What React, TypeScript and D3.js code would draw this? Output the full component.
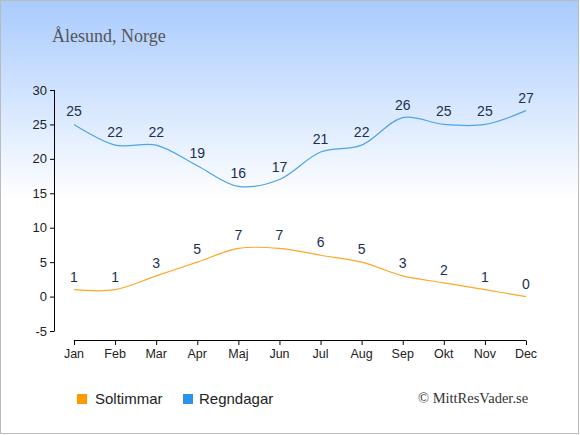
import React, { useEffect } from 'react';
import * as d3 from 'd3';

const months = ['Jan', 'Feb', 'Mar', 'Apr', 'Maj', 'Jun', 'Jul', 'Aug', 'Sep', 'Okt', 'Nov', 'Dec'];
const sunHours = [1, 1, 3, 5, 7, 7, 6, 5, 3, 2, 1, 0];
const rainDays = [25, 22, 22, 19, 16, 17, 21, 22, 26, 25, 25, 27];
const yTicks = [-5, 0, 5, 10, 15, 20, 25, 30];

const W = 580;
const H = 435;

export default function App() {
  useEffect(() => {
    document.body.style.margin = '0';
  }, []);

  const x = d3.scalePoint<string>().domain(months).range([74, 526]);
  const y = d3.scaleLinear().domain([-5, 30]).range([331, 90]);

  const line = d3.line<number>()
    .x((_, i) => x(months[i]) as number)
    .y(d => y(d))
    .curve(d3.curveCatmullRom.alpha(0.5));

  const font = 'Arial, "Liberation Sans", sans-serif';

  return (
    <svg width={W} height={H} style={{ display: 'block' }}>
      <defs>
        <linearGradient id="bg" x1="0" y1="0" x2="0" y2="1">
          <stop offset="0%" stopColor="#a9cbfe" />
          <stop offset="46%" stopColor="#ffffff" />
          <stop offset="100%" stopColor="#ffffff" />
        </linearGradient>
      </defs>
      <rect x={0.5} y={0.5} width={W - 2} height={H - 2} fill="url(#bg)" stroke="#bbbbbb" />

      <text x={52} y={42} fontFamily='"Liberation Serif", serif' fontSize={18} fill="#555555">
        Ålesund, Norge
      </text>

      {/* y axis */}
      <line x1={54.5} x2={54.5} y1={y(30)} y2={y(-5)} stroke="#000" />
      {yTicks.map(t => (
        <g key={t}>
          <line x1={50} x2={54.5} y1={y(t) + 0.5} y2={y(t) + 0.5} stroke="#000" />
          <text x={47} y={y(t) + 4.5} textAnchor="end" fontFamily={font} fontSize={13} fill="#222">
            {t}
          </text>
        </g>
      ))}

      {/* x axis */}
      <line x1={x('Jan')} x2={x('Dec')} y1={340.5} y2={340.5} stroke="#000" />
      {months.map(m => (
        <g key={m}>
          <line x1={(x(m) as number) + 0.5} x2={(x(m) as number) + 0.5} y1={340.5} y2={345} stroke="#000" />
          <text x={x(m)} y={358} textAnchor="middle" fontFamily={font} fontSize={12.5} fill="#222">
            {m}
          </text>
        </g>
      ))}

      {/* series */}
      <path d={line(rainDays) ?? ''} fill="none" stroke="#4da3ec" strokeWidth={1.2} />
      <path d={line(sunHours) ?? ''} fill="none" stroke="#ffa726" strokeWidth={1.2} />

      {rainDays.map((v, i) => (
        <text key={'r' + i} x={x(months[i])} y={y(v) - 8} textAnchor="middle" fontFamily={font} fontSize={14} fill="#1b2f50">
          {v}
        </text>
      ))}
      {sunHours.map((v, i) => (
        <text key={'s' + i} x={x(months[i])} y={y(v) - 8} textAnchor="middle" fontFamily={font} fontSize={14} fill="#1b2f50">
          {v}
        </text>
      ))}

      {/* legend */}
      <rect x={77} y={394} width={10} height={10} fill="#ff9900" />
      <text x={95} y={403.5} fontFamily={font} fontSize={15} fill="#222">Soltimmar</text>
      <rect x={183} y={394} width={10} height={10} fill="#2b94e8" />
      <text x={199} y={403.5} fontFamily={font} fontSize={15} fill="#222">Regndagar</text>

      <text x={418} y={403} fontFamily='"Liberation Serif", serif' fontSize={14.5} fill="#333">
        © MittResVader.se
      </text>
    </svg>
  );
}
